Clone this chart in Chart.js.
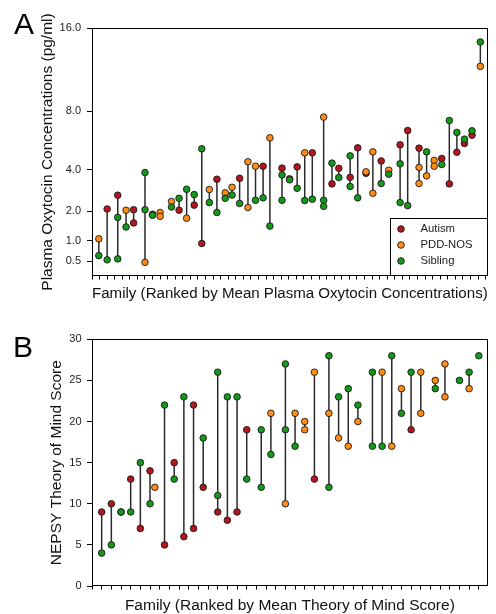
<!DOCTYPE html>
<html>
<head>
<meta charset="utf-8">
<script src="https://cdn.jsdelivr.net/npm/chart.js@4.4.1/dist/chart.umd.min.js"></script>
<style>
    html, body {
        margin: 0;
        padding: 0;
        width: 496px;
        height: 614px;
        overflow: hidden;
        background: #fff;
        position: relative;
        font-family: "Liberation Sans", Arial, sans-serif;
    }
    canvas { position: absolute; left: 0; }
    .letra { position: absolute; font-size: 30px; line-height: 30px; color: #000; }
</style>
</head>
<body>
<canvas id="chartA" width="496" height="310" style="top:0;width:496px;height:310px"></canvas>
<canvas id="chartB" width="496" height="320" style="top:300px;width:496px;height:320px"></canvas>
<div class="letra" style="left:14px;top:9px">A</div>
<div class="letra" style="left:13px;top:332px">B</div>
<script>

// =====================================================
// Datos - Panel A (oxitocina, pg/ml)
// =====================================================

const familyA = [0.9, 2, 3.4, 4.5, 5.5, 7, 8, 9, 10.5, 11.5, 12.5, 13.5, 14.5, 15.5, 16.5, 17.6,
    18.5, 19.5, 20.6, 21.6, 22.6, 23.5, 25.1, 26.1, 27.1, 28.1, 29.1, 30.6, 31.7, 32.6, 34.1,
    35.1, 36.2, 37.1, 38.2, 39.2, 40.7, 41.7, 43.2, 44.2, 45.2, 46.2, 47.2, 48.2, 49.2, 50.2, 51.3];

const autismA = [[], [2.09], [2.69], [], [2.06, 1.56], [], [1.88], [], [], [2.04], [], [2.25],
    [0.92], [], [3.48], [], [], [3.53], [], [], [4.20], [], [4.09], [3.50], [4.16], [], [5.01],
    [], [3.24], [4.08], [3.58], [5.33], [3.80], [], [4.51], [], [5.53], [6.52], [5.31], [], [],
    [4.66], [3.24], [5.05], [5.62], [6.19], []];

const pddA = [[1.05], [], [], [2.04], [], [0.48], [], [1.95, 1.80], [2.41], [], [1.73], [],
    [], [2.96], [], [2.80], [3.07], [], [4.46, 2.15], [4.20], [], [6.00], [], [], [], [5.01], [],
    [7.52], [], [], [], [], [3.88], [5.07, 2.78], [], [3.97], [], [], [4.13, 3.26], [3.66],
    [4.54, 4.20], [], [], [], [], [], [11.96]];

const siblingA = [[0.62], [0.53], [1.76, 0.55], [1.42], [], [3.84, 2.06], [1.84], [], [2.17],
    [2.55], [2.97], [2.72], [5.27], [2.36], [1.95], [2.55], [2.70], [2.32], [], [2.46], [2.57],
    [1.45], [3.71, 2.46], [3.45], [3.02], [2.45], [2.51], [2.46, 2.20], [4.38], [3.57],
    [4.82, 3.11], [2.57], [], [], [3.26], [3.75], [4.34, 2.36], [2.23], [], [5.07], [], [4.30],
    [7.26], [6.38], [5.91], [6.50], [14.46]];

const ticksA = [0.5, 1, 2, 4, 8, 16];

// =====================================================
// Datos - Panel B (NEPSY Theory of Mind)
// =====================================================

const familyB = [1, 2, 3, 4, 5, 6, 6.5, 7.5, 8.5, 9.5, 10.5, 11.5, 13, 14, 15, 16, 17.5, 18.5,
    20, 21, 22, 23, 24.5, 25.5, 26.5, 27.5, 29, 30, 31, 32, 33, 34, 35.5, 36.5, 38, 39, 40];

const autismB = [[9], [10], [9], [13], [7], [14], [], [5], [15], [6], [22, 7], [12], [9], [8],
    [9], [19], [], [], [], [], [], [13], [], [], [], [], [], [], [], [], [19], [], [], [], [], [], []];

const pddB = [[], [], [], [], [], [], [12], [], [], [], [], [], [], [], [], [], [], [21], [10],
    [21], [20, 19], [26], [21], [18], [17], [20], [], [26], [17], [24], [], [26, 21], [25],
    [27, 23], [], [24], []];

const siblingB = [[4], [5], [9], [9], [15], [10], [], [22], [13], [23], [], [18], [26, 11], [23],
    [23], [13], [19, 12], [16], [27, 19], [17], [], [], [28, 12], [23], [24], [22], [26, 17],
    [17], [28], [21], [26], [], [24], [], [25], [26], [28]];

const ticksB = [0, 5, 10, 15, 20, 25, 30];

// =====================================================
// Configuración Global
// =====================================================

Chart.defaults.font.family = "'Liberation Sans', Arial, sans-serif";
Chart.defaults.color = "#222";

const colores = {
    autism: "#b3161c",
    pdd: "#ff8c14",
    sibling: "#14981a",
    borde: "#1a1a1a",
    linea: "#2a2a2a"
};

// escala raíz cuadrada (eje de oxitocina)
class SqrtScale extends Chart.LinearScale {
    static id = "sqrt";
    getPixelForValue(value) {
        const lo = Math.sqrt(this.min), hi = Math.sqrt(this.max);
        return this.getPixelForDecimal((Math.sqrt(value) - lo) / (hi - lo));
    }
    getValueForPixel(pixel) {
        const lo = Math.sqrt(this.min), hi = Math.sqrt(this.max);
        const s = lo + this.getDecimalForPixel(pixel) * (hi - lo);
        return s * s;
    }
}
Chart.register(SqrtScale);

// =====================================================
// Utilidades
// =====================================================

function puntos(family, grupo) {
    const out = [];
    family.forEach((x, i) => grupo[i].forEach(v => out.push({ x: x, y: v })));
    return out;
}

function lineas(family, grupos) {
    const out = [];
    family.forEach((x, i) => {
        const vals = [].concat(...grupos.map(g => g[i]));
        if (vals.length < 2) return;
        out.push({ x: x, y: Math.min(...vals) });
        out.push({ x: x, y: Math.max(...vals) });
        out.push({ x: x, y: null });
    });
    return out;
}

function serie(label, data, color, order) {
    return {
        label: label,
        data: data,
        backgroundColor: color,
        borderColor: colores.borde,
        borderWidth: 0.9,
        pointRadius: 3.3,
        showLine: false,
        inLegend: true,
        order: order
    };
}

const marco = {
    id: "marco",
    beforeDatasetsDraw(chart) {
        const { ctx, chartArea: a } = chart;
        ctx.save();
        ctx.strokeStyle = "#000";
        ctx.lineWidth = 1;
        const l = Math.round(a.left) + 0.5, t = Math.round(a.top) + 0.5;
        const r = Math.round(a.right) - 0.5, b = Math.round(a.bottom) - 0.5;
        ctx.strokeRect(l, t, r - l, b - t);
        ctx.restore();
    }
};

const leyenda = {
    id: "leyendaCaja",
    afterDraw(chart, args, opts) {
        if (!opts.display) return;
        const { ctx, chartArea: a } = chart;
        const w = 98, h = 58;
        const x0 = Math.round(a.right - w) + 0.5, y0 = Math.round(a.bottom - h) + 0.5;
        ctx.save();
        ctx.fillStyle = "#fff";
        ctx.fillRect(x0, y0, Math.round(a.right) - 0.5 - x0, Math.round(a.bottom) - 0.5 - y0);
        ctx.strokeStyle = "#000";
        ctx.lineWidth = 1;
        ctx.strokeRect(x0, y0, Math.round(a.right) - 0.5 - x0, Math.round(a.bottom) - 0.5 - y0);
        ctx.font = "11.3px 'Liberation Sans', Arial, sans-serif";
        ctx.textBaseline = "middle";
        chart.data.datasets.filter(d => d.inLegend).forEach((d, i) => {
            const cy = y0 + 10.5 + i * 16;
            ctx.beginPath();
            ctx.arc(x0 + 10.5, cy, 3.3, 0, Math.PI * 2);
            ctx.fillStyle = d.backgroundColor;
            ctx.fill();
            ctx.lineWidth = 0.9;
            ctx.strokeStyle = colores.borde;
            ctx.stroke();
            ctx.fillStyle = "#222";
            ctx.fillText(d.label, x0 + 30, cy);
        });
        ctx.restore();
    }
};

function crearGrafico(id, p) {
    const canvas = document.getElementById(id);
    if (!canvas) return;
    const grupos = [p.autism, p.pdd, p.sibling];
    new Chart(canvas, {
        type: "scatter",
        data: {
            datasets: [
                serie("Autism", puntos(p.family, p.autism), colores.autism, 3),
                serie("PDD-NOS", puntos(p.family, p.pdd), colores.pdd, 2),
                serie("Sibling", puntos(p.family, p.sibling), colores.sibling, 1),
                {
                    label: "rango",
                    data: lineas(p.family, grupos),
                    showLine: true,
                    spanGaps: false,
                    borderColor: colores.linea,
                    borderWidth: 1.5,
                    pointRadius: 0,
                    order: 4
                }
            ]
        },
        options: {
            responsive: false,
            animation: false,
            events: [],
            layout: { padding: p.padding },
            plugins: {
                legend: { display: false },
                tooltip: { enabled: false },
                leyendaCaja: { display: p.legend }
            },
            scales: {
                x: {
                    type: "linear",
                    min: 0,
                    max: p.xMax,
                    afterFit: s => { s.height = p.xHeight; },
                    border: { display: false },
                    grid: { drawOnChartArea: false, tickLength: 3.5, tickColor: "#000", lineWidth: 1 },
                    ticks: { stepSize: 1, includeBounds: false, autoSkip: false, maxRotation: 0, callback: () => "" },
                    title: {
                        display: true,
                        text: p.xTitle,
                        color: "#111",
                        font: { size: 15.5 },
                        padding: { top: 0, bottom: 0 }
                    }
                },
                y: {
                    type: p.yType,
                    min: p.yTicks[0] === 0 ? 0 : 0.25,
                    max: p.yTicks[p.yTicks.length - 1],
                    afterBuildTicks: s => { s.ticks = p.yTicks.map(v => ({ value: v })); },
                    afterFit: s => { s.width = 92; },
                    border: { display: false },
                    grid: { drawOnChartArea: false, tickLength: 5, tickColor: "#000", lineWidth: 1 },
                    ticks: { font: { size: 11 }, color: "#222", padding: p.yPad, callback: p.yFmt },
                    title: {
                        display: true,
                        text: p.yTitle,
                        color: "#111",
                        font: { size: 15.5 },
                        padding: { top: p.yTitlePad, bottom: 0 }
                    }
                }
            }
        },
        plugins: [marco, leyenda]
    });
}

document.addEventListener("DOMContentLoaded", () => {

    // =====================================================
    // Panel A
    // =====================================================

    crearGrafico("chartA", {
        family: familyA, autism: autismA, pdd: pddA, sibling: siblingA,
        yType: "sqrt",
        yTicks: ticksA,
        yFmt: v => Number(v).toFixed(1),
        yPad: 6,
        yTitle: "Plasma Oxytocin Concentrations (pg/ml)",
        yTitlePad: 38.7,
        xTitle: "Family (Ranked by Mean Plasma Oxytocin Concentrations)",
        xMax: 52.27,
        xHeight: 27.5,
        padding: { left: 0, right: 8.3, top: 28, bottom: 6.5 },
        legend: true
    });

    // =====================================================
    // Panel B
    // =====================================================

    crearGrafico("chartB", {
        family: familyB, autism: autismB, pdd: pddB, sibling: siblingB,
        yType: "linear",
        yTicks: ticksB,
        yFmt: v => String(v),
        yPad: 5.5,
        yTitle: "NEPSY Theory of Mind Score",
        yTitlePad: 47,
        xTitle: "Family (Ranked by Mean Theory of Mind Score)",
        xMax: 40.92,
        xHeight: 29.5,
        padding: { left: 0, right: 8.3, top: 39.3, bottom: 4.5 },
        legend: false
    });

});
</script>
</body>
</html>
